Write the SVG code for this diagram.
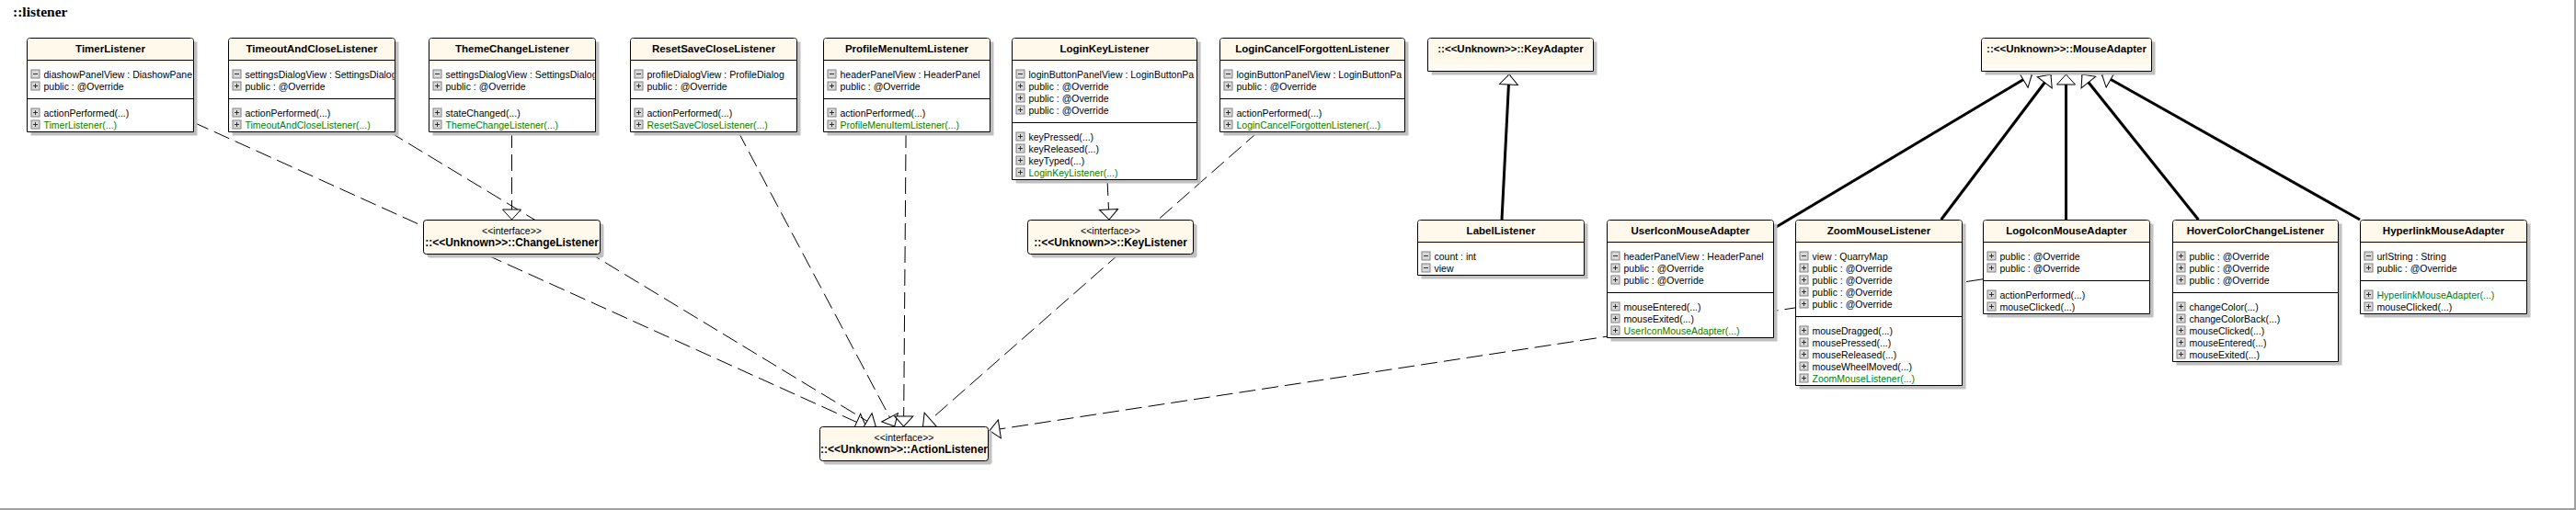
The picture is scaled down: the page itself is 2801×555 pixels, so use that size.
<svg xmlns="http://www.w3.org/2000/svg" xmlns:xlink="http://www.w3.org/1999/xlink" width="2801" height="555" viewBox="0 0 2801 555">
<style>
.sh{fill:#c0c0c0}
.bx{fill:#fff;stroke:#000;stroke-width:1}
.ifc{fill:#fff9ec;stroke:#000;stroke-width:1}
.hd{fill:#fff9ec}
.bn{fill:url(#bg)}
.ln{stroke:#000;stroke-width:1}
.t{font-family:"Liberation Sans",Arial,sans-serif;font-size:11.5px;font-weight:bold;text-anchor:middle;fill:#000}
.m{font-family:"Liberation Sans",Arial,sans-serif;font-size:10.5px;fill:#000}
.g{fill:#008000}
.st{font-family:"Liberation Sans",Arial,sans-serif;font-size:10.5px;text-anchor:middle;fill:#000}
.dash{fill:none;stroke:#000;stroke-width:1;stroke-dasharray:18 7;marker-end:url(#tri)}
.gen{fill:none;stroke:#000;stroke-width:3;marker-end:url(#tri)}
.ttl{font-family:"Liberation Serif","Times New Roman",serif;font-size:15.5px;font-weight:bold;fill:#000}
</style>
<defs>
<linearGradient id="bg" x1="0" y1="0" x2="0" y2="1"><stop offset="0" stop-color="#fff9ec"/><stop offset="1" stop-color="#fff"/></linearGradient>
<marker id="tri" markerUnits="userSpaceOnUse" markerWidth="24" markerHeight="24" refX="11" refY="10" orient="auto" overflow="visible">
<path d="M0,0 L11,10 L0,20 Z" fill="#fff" stroke="#000" stroke-width="1"/>
</marker>
<g id="ip"><rect x="0.5" y="0.5" width="9" height="9" fill="#d8d8d8" stroke="#808080"/><path d="M2.5,5H7.5M5,2.5V7.5" stroke="#303030" stroke-width="1"/></g>
<g id="im"><rect x="0.5" y="0.5" width="9" height="9" fill="#d8d8d8" stroke="#808080"/><path d="M2.5,5H7.5" stroke="#303030" stroke-width="1"/></g>
<clipPath id="c181"><rect x="0" y="0" width="180" height="400"/></clipPath>
<clipPath id="c201"><rect x="0" y="0" width="200" height="400"/></clipPath>
<clipPath id="c192"><rect x="0" y="0" width="191" height="60"/></clipPath>
<clipPath id="c185"><rect x="0" y="0" width="184" height="60"/></clipPath>
</defs>
<rect x="0" y="0" width="2801" height="555" fill="#fff"/>
<text class="ttl" x="14" y="18">::listener</text>

<g id="connectors">
<path class="dash" d="M210,133 L941.6,464"/>
<path class="dash" d="M422.6,143 L952.3,464"/>
<path class="dash" d="M556.5,143 L556.5,239"/>
<path class="dash" d="M802.5,143 L972.7,464"/>
<path class="dash" d="M985.1,143 L982.6,464"/>
<path class="dash" d="M1204,195 L1206,239"/>
<path class="dash" d="M1368.5,143 L1003.5,464"/>
<path class="dash" d="M2156,303.8 L1076,468.6"/>
<path class="gen" d="M1633,239 L1641,81"/>
<path class="gen" d="M1928,249 L2209.4,81"/>
<path class="gen" d="M2110.7,239 L2229.9,81"/>
<path class="gen" d="M2246.5,239 L2246.5,81"/>
<path class="gen" d="M2390.4,239 L2264,81"/>
<path class="gen" d="M2566,239 L2285.5,81"/>
</g>

<g id="TimerListener" transform="translate(29.5,41.5)">
<rect class="sh" x="4" y="4" width="181" height="102"/>
<path class="bx" d="M0,102V3Q0,0 3,0H178Q181,0 181,3V102Z"/>
<path class="hd" d="M0.5,24V3Q0.5,0.5 3,0.5H178Q180.5,0.5 180.5,3V24Z"/>
<rect class="bn" x="0.5" y="24.5" width="180" height="6"/>
<line class="ln" x1="0" y1="24" x2="181" y2="24"/><line class="ln" x1="0" y1="66" x2="181" y2="66"/>
<text class="t" x="90.5" y="15">TimerListener</text>
<g clip-path="url(#c181)">
<use href="#im" x="4" y="34"/><text class="m" x="18" y="43">diashowPanelView : DiashowPane</text>
<use href="#ip" x="4" y="47"/><text class="m" x="18" y="56">public : @Override</text>
<use href="#ip" x="4" y="76"/><text class="m" x="18" y="85">actionPerformed(...)</text>
<use href="#ip" x="4" y="89"/><text class="m g" x="18" y="98">TimerListener(...)</text>
</g></g>

<g id="TimeoutAndCloseListener" transform="translate(248.5,41.5)">
<rect class="sh" x="4" y="4" width="181" height="102"/>
<path class="bx" d="M0,102V3Q0,0 3,0H178Q181,0 181,3V102Z"/>
<path class="hd" d="M0.5,24V3Q0.5,0.5 3,0.5H178Q180.5,0.5 180.5,3V24Z"/>
<rect class="bn" x="0.5" y="24.5" width="180" height="6"/>
<line class="ln" x1="0" y1="24" x2="181" y2="24"/><line class="ln" x1="0" y1="66" x2="181" y2="66"/>
<text class="t" x="90.5" y="15">TimeoutAndCloseListener</text>
<g clip-path="url(#c181)">
<use href="#im" x="4" y="34"/><text class="m" x="18" y="43">settingsDialogView : SettingsDialog</text>
<use href="#ip" x="4" y="47"/><text class="m" x="18" y="56">public : @Override</text>
<use href="#ip" x="4" y="76"/><text class="m" x="18" y="85">actionPerformed(...)</text>
<use href="#ip" x="4" y="89"/><text class="m g" x="18" y="98">TimeoutAndCloseListener(...)</text>
</g></g>

<g id="ThemeChangeListener" transform="translate(466.5,41.5)">
<rect class="sh" x="4" y="4" width="181" height="102"/>
<path class="bx" d="M0,102V3Q0,0 3,0H178Q181,0 181,3V102Z"/>
<path class="hd" d="M0.5,24V3Q0.5,0.5 3,0.5H178Q180.5,0.5 180.5,3V24Z"/>
<rect class="bn" x="0.5" y="24.5" width="180" height="6"/>
<line class="ln" x1="0" y1="24" x2="181" y2="24"/><line class="ln" x1="0" y1="66" x2="181" y2="66"/>
<text class="t" x="90.5" y="15">ThemeChangeListener</text>
<g clip-path="url(#c181)">
<use href="#im" x="4" y="34"/><text class="m" x="18" y="43">settingsDialogView : SettingsDialog</text>
<use href="#ip" x="4" y="47"/><text class="m" x="18" y="56">public : @Override</text>
<use href="#ip" x="4" y="76"/><text class="m" x="18" y="85">stateChanged(...)</text>
<use href="#ip" x="4" y="89"/><text class="m g" x="18" y="98">ThemeChangeListener(...)</text>
</g></g>

<g id="ResetSaveCloseListener" transform="translate(685.5,41.5)">
<rect class="sh" x="4" y="4" width="181" height="102"/>
<path class="bx" d="M0,102V3Q0,0 3,0H178Q181,0 181,3V102Z"/>
<path class="hd" d="M0.5,24V3Q0.5,0.5 3,0.5H178Q180.5,0.5 180.5,3V24Z"/>
<rect class="bn" x="0.5" y="24.5" width="180" height="6"/>
<line class="ln" x1="0" y1="24" x2="181" y2="24"/><line class="ln" x1="0" y1="66" x2="181" y2="66"/>
<text class="t" x="90.5" y="15">ResetSaveCloseListener</text>
<g clip-path="url(#c181)">
<use href="#im" x="4" y="34"/><text class="m" x="18" y="43">profileDialogView : ProfileDialog</text>
<use href="#ip" x="4" y="47"/><text class="m" x="18" y="56">public : @Override</text>
<use href="#ip" x="4" y="76"/><text class="m" x="18" y="85">actionPerformed(...)</text>
<use href="#ip" x="4" y="89"/><text class="m g" x="18" y="98">ResetSaveCloseListener(...)</text>
</g></g>

<g id="ProfileMenuItemListener" transform="translate(895.5,41.5)">
<rect class="sh" x="4" y="4" width="181" height="102"/>
<path class="bx" d="M0,102V3Q0,0 3,0H178Q181,0 181,3V102Z"/>
<path class="hd" d="M0.5,24V3Q0.5,0.5 3,0.5H178Q180.5,0.5 180.5,3V24Z"/>
<rect class="bn" x="0.5" y="24.5" width="180" height="6"/>
<line class="ln" x1="0" y1="24" x2="181" y2="24"/><line class="ln" x1="0" y1="66" x2="181" y2="66"/>
<text class="t" x="90.5" y="15">ProfileMenuItemListener</text>
<g clip-path="url(#c181)">
<use href="#im" x="4" y="34"/><text class="m" x="18" y="43">headerPanelView : HeaderPanel</text>
<use href="#ip" x="4" y="47"/><text class="m" x="18" y="56">public : @Override</text>
<use href="#ip" x="4" y="76"/><text class="m" x="18" y="85">actionPerformed(...)</text>
<use href="#ip" x="4" y="89"/><text class="m g" x="18" y="98">ProfileMenuItemListener(...)</text>
</g></g>

<g id="LoginKeyListener" transform="translate(1100.5,41.5)">
<rect class="sh" x="4" y="4" width="201" height="154"/>
<path class="bx" d="M0,154V3Q0,0 3,0H198Q201,0 201,3V154Z"/>
<path class="hd" d="M0.5,24V3Q0.5,0.5 3,0.5H198Q200.5,0.5 200.5,3V24Z"/>
<rect class="bn" x="0.5" y="24.5" width="200" height="6"/>
<line class="ln" x1="0" y1="24" x2="201" y2="24"/><line class="ln" x1="0" y1="92" x2="201" y2="92"/>
<text class="t" x="100.5" y="15">LoginKeyListener</text>
<g clip-path="url(#c201)">
<use href="#im" x="4" y="34"/><text class="m" x="18" y="43">loginButtonPanelView : LoginButtonPa</text>
<use href="#ip" x="4" y="47"/><text class="m" x="18" y="56">public : @Override</text>
<use href="#ip" x="4" y="60"/><text class="m" x="18" y="69">public : @Override</text>
<use href="#ip" x="4" y="73"/><text class="m" x="18" y="82">public : @Override</text>
<use href="#ip" x="4" y="102"/><text class="m" x="18" y="111">keyPressed(...)</text>
<use href="#ip" x="4" y="115"/><text class="m" x="18" y="124">keyReleased(...)</text>
<use href="#ip" x="4" y="128"/><text class="m" x="18" y="137">keyTyped(...)</text>
<use href="#ip" x="4" y="141"/><text class="m g" x="18" y="150">LoginKeyListener(...)</text>
</g></g>

<g id="LoginCancelForgottenListener" transform="translate(1326.5,41.5)">
<rect class="sh" x="4" y="4" width="201" height="102"/>
<path class="bx" d="M0,102V3Q0,0 3,0H198Q201,0 201,3V102Z"/>
<path class="hd" d="M0.5,24V3Q0.5,0.5 3,0.5H198Q200.5,0.5 200.5,3V24Z"/>
<rect class="bn" x="0.5" y="24.5" width="200" height="6"/>
<line class="ln" x1="0" y1="24" x2="201" y2="24"/><line class="ln" x1="0" y1="66" x2="201" y2="66"/>
<text class="t" x="100.5" y="15">LoginCancelForgottenListener</text>
<g clip-path="url(#c201)">
<use href="#im" x="4" y="34"/><text class="m" x="18" y="43">loginButtonPanelView : LoginButtonPa</text>
<use href="#ip" x="4" y="47"/><text class="m" x="18" y="56">public : @Override</text>
<use href="#ip" x="4" y="76"/><text class="m" x="18" y="85">actionPerformed(...)</text>
<use href="#ip" x="4" y="89"/><text class="m g" x="18" y="98">LoginCancelForgottenListener(...)</text>
</g></g>

<g id="KeyAdapter" transform="translate(1552.5,41.5)">
<rect class="sh" x="4" y="4" width="180" height="36"/>
<path class="bx" d="M0,36V3Q0,0 3,0H177Q180,0 180,3V36Z"/>
<path class="hd" d="M0.5,29V3Q0.5,0.5 3,0.5H177Q179.5,0.5 179.5,3V29Z"/>
<rect x="0.5" y="29" width="179" height="6.5" fill="#fffcf5"/>
<text class="t" x="90" y="15">::&lt;&lt;Unknown&gt;&gt;::KeyAdapter</text>
</g>

<g id="MouseAdapter" transform="translate(2154.5,41.5)">
<rect class="sh" x="4" y="4" width="185" height="36"/>
<path class="bx" d="M0,36V3Q0,0 3,0H182Q185,0 185,3V36Z"/>
<path class="hd" d="M0.5,29V3Q0.5,0.5 3,0.5H182Q184.5,0.5 184.5,3V29Z"/>
<rect x="0.5" y="29" width="184" height="6.5" fill="#fffcf5"/>
<g clip-path="url(#c185)"><text class="t" x="92.5" y="15">::&lt;&lt;Unknown&gt;&gt;::MouseAdapter</text></g>
</g>

<g id="ChangeListener" transform="translate(460.5,239.5)">
<rect class="sh" x="4" y="4" width="192" height="37" rx="3"/>
<rect class="ifc" x="0" y="0" width="192" height="37" rx="3"/>
<text class="st" x="96" y="15">&lt;&lt;interface&gt;&gt;</text>
<g clip-path="url(#c192)"><text class="t" x="96" y="28" style="font-size:12px">::&lt;&lt;Unknown&gt;&gt;::ChangeListener</text></g>
</g>

<g id="KeyListener" transform="translate(1117.5,239.5)">
<rect class="sh" x="4" y="4" width="180" height="37" rx="3"/>
<rect class="ifc" x="0" y="0" width="180" height="37" rx="3"/>
<text class="st" x="90" y="15">&lt;&lt;interface&gt;&gt;</text>
<text class="t" x="90" y="28" style="font-size:12px">::&lt;&lt;Unknown&gt;&gt;::KeyListener</text>
</g>

<g id="ActionListener" transform="translate(891.5,464.5)">
<rect class="sh" x="4" y="4" width="183" height="37" rx="3"/>
<rect class="ifc" x="0" y="0" width="183" height="37" rx="3"/>
<text class="st" x="91.5" y="15">&lt;&lt;interface&gt;&gt;</text>
<text class="t" x="91.5" y="28" style="font-size:12px">::&lt;&lt;Unknown&gt;&gt;::ActionListener</text>
</g>

<g id="LabelListener" transform="translate(1541.5,239.5)">
<rect class="sh" x="4" y="4" width="181" height="60"/>
<path class="bx" d="M0,60V3Q0,0 3,0H178Q181,0 181,3V60Z"/>
<path class="hd" d="M0.5,24V3Q0.5,0.5 3,0.5H178Q180.5,0.5 180.5,3V24Z"/>
<rect class="bn" x="0.5" y="24.5" width="180" height="6"/>
<line class="ln" x1="0" y1="24" x2="181" y2="24"/>
<text class="t" x="90.5" y="15">LabelListener</text>
<use href="#im" x="4" y="34"/><text class="m" x="18" y="43">count : int</text>
<use href="#im" x="4" y="47"/><text class="m" x="18" y="56">view</text>
</g>

<g id="UserIconMouseAdapter" transform="translate(1747.5,239.5)">
<rect class="sh" x="4" y="4" width="181" height="128"/>
<path class="bx" d="M0,128V3Q0,0 3,0H178Q181,0 181,3V128Z"/>
<path class="hd" d="M0.5,24V3Q0.5,0.5 3,0.5H178Q180.5,0.5 180.5,3V24Z"/>
<rect class="bn" x="0.5" y="24.5" width="180" height="6"/>
<line class="ln" x1="0" y1="24" x2="181" y2="24"/><line class="ln" x1="0" y1="79" x2="181" y2="79"/>
<text class="t" x="90.5" y="15">UserIconMouseAdapter</text>
<g clip-path="url(#c181)">
<use href="#im" x="4" y="34"/><text class="m" x="18" y="43">headerPanelView : HeaderPanel</text>
<use href="#ip" x="4" y="47"/><text class="m" x="18" y="56">public : @Override</text>
<use href="#ip" x="4" y="60"/><text class="m" x="18" y="69">public : @Override</text>
<use href="#ip" x="4" y="89"/><text class="m" x="18" y="98">mouseEntered(...)</text>
<use href="#ip" x="4" y="102"/><text class="m" x="18" y="111">mouseExited(...)</text>
<use href="#ip" x="4" y="115"/><text class="m g" x="18" y="124">UserIconMouseAdapter(...)</text>
</g></g>

<g id="ZoomMouseListener" transform="translate(1952.5,239.5)">
<rect class="sh" x="4" y="4" width="181" height="180"/>
<path class="bx" d="M0,180V3Q0,0 3,0H178Q181,0 181,3V180Z"/>
<path class="hd" d="M0.5,24V3Q0.5,0.5 3,0.5H178Q180.5,0.5 180.5,3V24Z"/>
<rect class="bn" x="0.5" y="24.5" width="180" height="6"/>
<line class="ln" x1="0" y1="24" x2="181" y2="24"/><line class="ln" x1="0" y1="105" x2="181" y2="105"/>
<text class="t" x="90.5" y="15">ZoomMouseListener</text>
<g clip-path="url(#c181)">
<use href="#im" x="4" y="34"/><text class="m" x="18" y="43">view : QuarryMap</text>
<use href="#ip" x="4" y="47"/><text class="m" x="18" y="56">public : @Override</text>
<use href="#ip" x="4" y="60"/><text class="m" x="18" y="69">public : @Override</text>
<use href="#ip" x="4" y="73"/><text class="m" x="18" y="82">public : @Override</text>
<use href="#ip" x="4" y="86"/><text class="m" x="18" y="95">public : @Override</text>
<use href="#ip" x="4" y="115"/><text class="m" x="18" y="124">mouseDragged(...)</text>
<use href="#ip" x="4" y="128"/><text class="m" x="18" y="137">mousePressed(...)</text>
<use href="#ip" x="4" y="141"/><text class="m" x="18" y="150">mouseReleased(...)</text>
<use href="#ip" x="4" y="154"/><text class="m" x="18" y="163">mouseWheelMoved(...)</text>
<use href="#ip" x="4" y="167"/><text class="m g" x="18" y="176">ZoomMouseListener(...)</text>
</g></g>

<g id="LogoIconMouseAdapter" transform="translate(2156.5,239.5)">
<rect class="sh" x="4" y="4" width="181" height="102"/>
<path class="bx" d="M0,102V3Q0,0 3,0H178Q181,0 181,3V102Z"/>
<path class="hd" d="M0.5,24V3Q0.5,0.5 3,0.5H178Q180.5,0.5 180.5,3V24Z"/>
<rect class="bn" x="0.5" y="24.5" width="180" height="6"/>
<line class="ln" x1="0" y1="24" x2="181" y2="24"/><line class="ln" x1="0" y1="66" x2="181" y2="66"/>
<text class="t" x="90.5" y="15">LogoIconMouseAdapter</text>
<g clip-path="url(#c181)">
<use href="#ip" x="4" y="34"/><text class="m" x="18" y="43">public : @Override</text>
<use href="#ip" x="4" y="47"/><text class="m" x="18" y="56">public : @Override</text>
<use href="#ip" x="4" y="76"/><text class="m" x="18" y="85">actionPerformed(...)</text>
<use href="#ip" x="4" y="89"/><text class="m" x="18" y="98">mouseClicked(...)</text>
</g></g>

<g id="HoverColorChangeListener" transform="translate(2362.5,239.5)">
<rect class="sh" x="4" y="4" width="180" height="154"/>
<path class="bx" d="M0,154V3Q0,0 3,0H177Q180,0 180,3V154Z"/>
<path class="hd" d="M0.5,24V3Q0.5,0.5 3,0.5H177Q179.5,0.5 179.5,3V24Z"/>
<rect class="bn" x="0.5" y="24.5" width="179" height="6"/>
<line class="ln" x1="0" y1="24" x2="180" y2="24"/><line class="ln" x1="0" y1="79" x2="180" y2="79"/>
<text class="t" x="90" y="15">HoverColorChangeListener</text>
<g clip-path="url(#c181)">
<use href="#ip" x="4" y="34"/><text class="m" x="18" y="43">public : @Override</text>
<use href="#ip" x="4" y="47"/><text class="m" x="18" y="56">public : @Override</text>
<use href="#ip" x="4" y="60"/><text class="m" x="18" y="69">public : @Override</text>
<use href="#ip" x="4" y="89"/><text class="m" x="18" y="98">changeColor(...)</text>
<use href="#ip" x="4" y="102"/><text class="m" x="18" y="111">changeColorBack(...)</text>
<use href="#ip" x="4" y="115"/><text class="m" x="18" y="124">mouseClicked(...)</text>
<use href="#ip" x="4" y="128"/><text class="m" x="18" y="137">mouseEntered(...)</text>
<use href="#ip" x="4" y="141"/><text class="m" x="18" y="150">mouseExited(...)</text>
</g></g>

<g id="HyperlinkMouseAdapter" transform="translate(2566.5,239.5)">
<rect class="sh" x="4" y="4" width="181" height="102"/>
<path class="bx" d="M0,102V3Q0,0 3,0H178Q181,0 181,3V102Z"/>
<path class="hd" d="M0.5,24V3Q0.5,0.5 3,0.5H178Q180.5,0.5 180.5,3V24Z"/>
<rect class="bn" x="0.5" y="24.5" width="180" height="6"/>
<line class="ln" x1="0" y1="24" x2="181" y2="24"/><line class="ln" x1="0" y1="66" x2="181" y2="66"/>
<text class="t" x="90.5" y="15">HyperlinkMouseAdapter</text>
<g clip-path="url(#c181)">
<use href="#im" x="4" y="34"/><text class="m" x="18" y="43">urlString : String</text>
<use href="#ip" x="4" y="47"/><text class="m" x="18" y="56">public : @Override</text>
<use href="#ip" x="4" y="76"/><text class="m g" x="18" y="85">HyperlinkMouseAdapter(...)</text>
<use href="#ip" x="4" y="89"/><text class="m" x="18" y="98">mouseClicked(...)</text>
</g></g>

<path d="M2800,0V554H0" fill="none" stroke="#a0a0a0" stroke-width="2"/>
</svg>
